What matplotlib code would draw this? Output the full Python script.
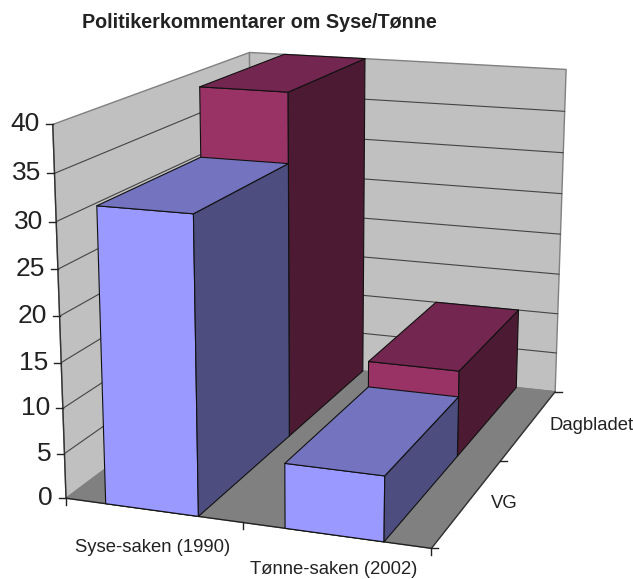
import numpy as np
import matplotlib
matplotlib.use("Agg")
import matplotlib.pyplot as plt
from matplotlib.patches import Polygon

title = "Politikerkommentarer om Syse/Tønne"
categories = ["Syse-saken (1990)", "Tønne-saken (2002)"]
series_names = ["VG", "Dagbladet"]
vg_values = [32, 7]
dagbladet_values = [40, 10]
z_ticks = [0, 5, 10, 15, 20, 25, 30, 35, 40]

# Camera calibration: chart-space corners (cat, series, value) and their picture pixels
world_pts = np.array([(0,0,0),(0,0,20),(0,0,40),(1,0,0),(2,0,0),(2,1,0),(2,2,0),(2,2,20),(2,2,40),(0,2,40),(0,2,0)], float)
pixel_pts = np.array([(67,497),(60,316),(53,124),(241,525),(431,548),(501,461),(555,390),(561,235),(566,70),(249,52),(252,360)], float)

def fit_camera(w, p):
    rows, rhs = [], []
    for (X, Y, Z), (u, v) in zip(w, p):
        rows.append([X, Y, Z, 1, 0, 0, 0, 0, -u*X, -u*Y, -u*Z]); rhs.append(u)
        rows.append([0, 0, 0, 0, X, Y, Z, 1, -v*X, -v*Y, -v*Z]); rhs.append(v)
    s = np.linalg.lstsq(np.array(rows), np.array(rhs), rcond=None)[0]
    return np.append(s, 1).reshape(3, 4)

P = fit_camera(world_pts, pixel_pts)

def proj(X, Y, Z):
    h = P @ np.array([X, Y, Z, 1.0])
    return h[0]/h[2], h[1]/h[2]

plt.rcParams["font.family"] = ["Liberation Sans", "DejaVu Sans"]
fig = plt.figure(figsize=(6.33, 5.79), dpi=100)
ax = fig.add_axes([0, 0, 1, 1])
ax.set_xlim(0, 633); ax.set_ylim(579, 0); ax.axis("off")

def face(pts, color, ec="#111111", lw=0.8, z=1):
    ax.add_patch(Polygon([proj(*q) for q in pts], closed=True, fc=color, ec=ec, lw=lw, zorder=z, joinstyle="round"))

def seg(a, b, color="#333333", lw=0.8, z=2):
    pa, pb = proj(*a), proj(*b)
    ax.plot([pa[0], pb[0]], [pa[1], pb[1]], color=color, lw=lw, zorder=z, solid_capstyle="round")

XN, YN, ZT = 2, 2, z_ticks[-1]
face([(0,0,0),(0,YN,0),(0,YN,ZT),(0,0,ZT)], "#C0C0C0", ec="#808080", lw=1)
face([(0,YN,0),(XN,YN,0),(XN,YN,ZT),(0,YN,ZT)], "#C0C0C0", ec="#808080", lw=1)
face([(0,0,0),(XN,0,0),(XN,YN,0),(0,YN,0)], "#808080", ec="#808080", lw=0.8)

for t in z_ticks[1:-1]:
    seg((0,0,t), (0,YN,t), color="#444444", lw=0.8)
    seg((0,YN,t), (XN,YN,t), color="#444444", lw=0.8)

# axes
seg((0,0,0), (0,0,ZT), color="#333333", lw=1, z=3)
seg((0,0,0), (XN,0,0), color="#222222", lw=1, z=3)
seg((XN,0,0), (XN,YN,0), color="#333333", lw=1, z=3)

for t in z_ticks:
    u, v = proj(0, 0, t)
    ax.plot([u-7, u], [v, v], color="#222222", lw=1, zorder=3)
    ax.text(u-13, v, str(t), ha="right", va="center", fontsize=19, color="#222222")
for i in range(XN+1):
    u, v = proj(i, 0, 0)
    ax.plot([u, u], [v, v+7], color="#222222", lw=1, zorder=3)
for j in range(YN+1):
    u, v = proj(XN, j, 0)
    ax.plot([u, u+7], [v, v], color="#222222", lw=1, zorder=3)

ax.text(153, 547, categories[0], ha="center", va="center", fontsize=13.3, color="#222222")
ax.text(334, 570, categories[1], ha="center", va="center", fontsize=13.3, color="#222222")
ax.text(504, 503, series_names[0], ha="center", va="center", fontsize=13.3, color="#222222")
ax.text(592, 425, series_names[1], ha="center", va="center", fontsize=13.3, color="#222222")
ax.text(259, 23, title, ha="center", va="center", fontsize=14.2, fontweight="bold", color="#222222")

X_INSET = 0.23
X_WIDE = 0.525
def bar(i, j, h, front, top, side, z):
    x0, x1 = i + X_INSET, i + X_INSET + X_WIDE
    y0, y1 = j, j + 1
    face([(x0,y0,0),(x1,y0,0),(x1,y0,h),(x0,y0,h)], front, z=z)
    face([(x1,y0,0),(x1,y1,0),(x1,y1,h),(x1,y0,h)], side, z=z)
    face([(x0,y0,h),(x1,y0,h),(x1,y1,h),(x0,y1,h)], top, z=z)

for i, h in enumerate(dagbladet_values):
    bar(i, 1, h, "#993366", "#732650", "#4D1A33", 4+i)
for i, h in enumerate(vg_values):
    bar(i, 0, h, "#9999FF", "#7373BF", "#4D4D80", 6+i)

fig.savefig("out.png", dpi=100)
